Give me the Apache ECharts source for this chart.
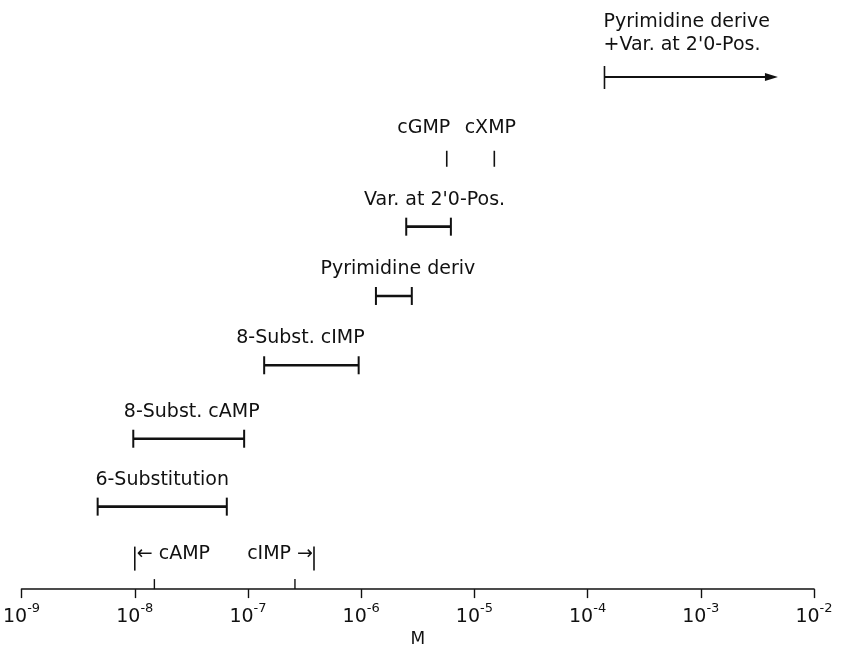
<!DOCTYPE html>
<html>
<head>
<meta charset="utf-8">
<script src="https://cdn.jsdelivr.net/npm/echarts@6/dist/echarts.min.js"></script>
<style>
html,body{margin:0;padding:0;background:#fff;}
#chart{width:841px;height:653px;}
</style>
</head>
<body>
<div id="chart"></div>
<script>
// ---- data ----
const decadeExponents = [-9, -8, -7, -6, -5, -4, -3, -2];
const axisName = 'M';

const rangeNames = ['6-Substitution', '8-Subst. cAMP', '8-Subst. cIMP', 'Pyrimidine deriv', "Var. at 2'0-Pos."];
const rangeLow   = [4.7e-9, 9.7e-9, 1.39e-7, 1.35e-6, 2.5e-6];
const rangeHigh  = [6.5e-8, 9.25e-8, 9.5e-7, 2.8e-6, 6.2e-6];
const rangeRow   = [1.19, 2.17, 3.23, 4.23, 5.23];

const singleNames = ['cGMP', 'cXMP'];
const singleValues = [5.7e-6, 1.5e-5];
const singleRow = 6.21;

const openNames = ['Pyrimidine derive', "+Var. at 2'0-Pos."];
const openLow = 1.41e-4;
const openHigh = 4.8e-3;
const openRow = 7.39;

const refNames = ['cAMP', 'cIMP'];
const refLimits = [1.0e-8, 3.83e-7];
const refRow = 0.44;
const refTicks = [1.49e-8, 2.6e-7];

// ---- styles ----
const INK = '#111';
const FONT = '"DejaVu Sans", sans-serif';
const LABEL_SIZE = 19;
const rangeLabelDx = [0, 3, -11, 4, 6];
const singleDx = [-23, -4];

const chart = echarts.init(document.getElementById('chart'));

function line(x1, y1, x2, y2, w) {
  return {type: 'line', shape: {x1, y1, x2, y2}, style: {stroke: INK, lineWidth: w || 2}};
}
function text(x, y, t, align) {
  return {type: 'text', x, y, style: {text: t, fill: INK, font: LABEL_SIZE + 'px ' + FONT,
    textAlign: align || 'center', textVerticalAlign: 'middle'}};
}

chart.setOption({
  animation: false,
  backgroundColor: '#fff',
  grid: {left: 20, right: 27, top: 7, bottom: 58},
  xAxis: {
    type: 'log', logBase: 10, min: 1e-9, max: 1e-2, interval: 1,
    name: axisName, nameLocation: 'middle', nameGap: 40,
    nameTextStyle: {fontFamily: FONT, fontSize: 17, color: INK},
    axisLine: {show: true, lineStyle: {color: INK, width: 1.7}},
    axisTick: {show: true, inside: false, length: 9, lineStyle: {color: INK, width: 1.4}},
    minorTick: {show: false},
    splitLine: {show: false},
    axisLabel: {
      margin: 13,
      formatter: function (v) {
        const e = Math.round(Math.log10(v));
        return '{b|10}{s|' + e + '}';
      },
      rich: {
        b: {fontFamily: FONT, fontSize: 19, color: INK, verticalAlign: 'bottom', lineHeight: 24},
        s: {fontFamily: FONT, fontSize: 13, color: INK, verticalAlign: 'top', lineHeight: 24, padding: [0, 0, 10, 0]}
      }
    }
  },
  yAxis: {type: 'value', min: 0, max: 8.4, show: false},
  series: [
    {
      type: 'custom', name: 'ranges',
      data: rangeNames.map((n, i) => [rangeLow[i], rangeHigh[i], rangeRow[i]]),
      renderItem: function (params, api) {
        const lo = api.coord([api.value(0), api.value(2)]);
        const hi = api.coord([api.value(1), api.value(2)]);
        const h = 9;
        const i = params.dataIndex;
        return {type: 'group', children: [
          line(lo[0], lo[1], hi[0], hi[1], 2.6),
          line(lo[0], lo[1] - h, lo[0], lo[1] + h, 2),
          line(hi[0], hi[1] - h, hi[0], hi[1] + h, 2),
          text((lo[0] + hi[0]) / 2 + rangeLabelDx[i], lo[1] - 27, rangeNames[i])
        ]};
      }
    },
    {
      type: 'custom', name: 'singles',
      data: singleValues.map(v => [v, singleRow]),
      renderItem: function (params, api) {
        const p = api.coord([api.value(0), api.value(1)]);
        return {type: 'group', children: [
          line(p[0], p[1] - 8, p[0], p[1] + 8, 1.6),
          text(p[0] + singleDx[params.dataIndex], p[1] - 31, singleNames[params.dataIndex])
        ]};
      }
    },
    {
      type: 'custom', name: 'open',
      data: [[openLow, openHigh, openRow]],
      renderItem: function (params, api) {
        const lo = api.coord([api.value(0), api.value(2)]);
        const hi = api.coord([api.value(1), api.value(2)]);
        return {type: 'group', children: [
          line(lo[0], lo[1], hi[0] - 10, hi[1], 1.8),
          line(lo[0], lo[1] - 11, lo[0], lo[1] + 12, 1.6),
          {type: 'polygon', shape: {points: [[hi[0], hi[1]], [hi[0] - 13, hi[1] - 4], [hi[0] - 13, hi[1] + 4]]},
            style: {fill: INK}},
          text(lo[0] - 1, lo[1] - 55, openNames[0], 'left'),
          text(lo[0] - 1, lo[1] - 32, openNames[1], 'left')
        ]};
      }
    },
    {
      type: 'custom', name: 'refs',
      data: refLimits.map(v => [v, refRow]),
      renderItem: function (params, api) {
        const p = api.coord([api.value(0), api.value(1)]);
        const i = params.dataIndex;
        const kids = [line(p[0], p[1] - 12, p[0], p[1] + 12, 1.6)];
        if (i === 0) {
          kids.push(text(p[0] + 2, p[1] - 5, '\u2190 ' + refNames[0], 'left'));
        } else {
          kids.push(text(p[0] - 1, p[1] - 5, refNames[1] + ' \u2192', 'right'));
        }
        return {type: 'group', children: kids};
      }
    },
    {
      type: 'custom', name: 'refTicks',
      data: refTicks.map(v => [v, 0]),
      renderItem: function (params, api) {
        const p = api.coord([api.value(0), api.value(1)]);
        return line(p[0], p[1], p[0], p[1] - 10, 1.4);
      }
    }
  ]
});
</script>
</body>
</html>
